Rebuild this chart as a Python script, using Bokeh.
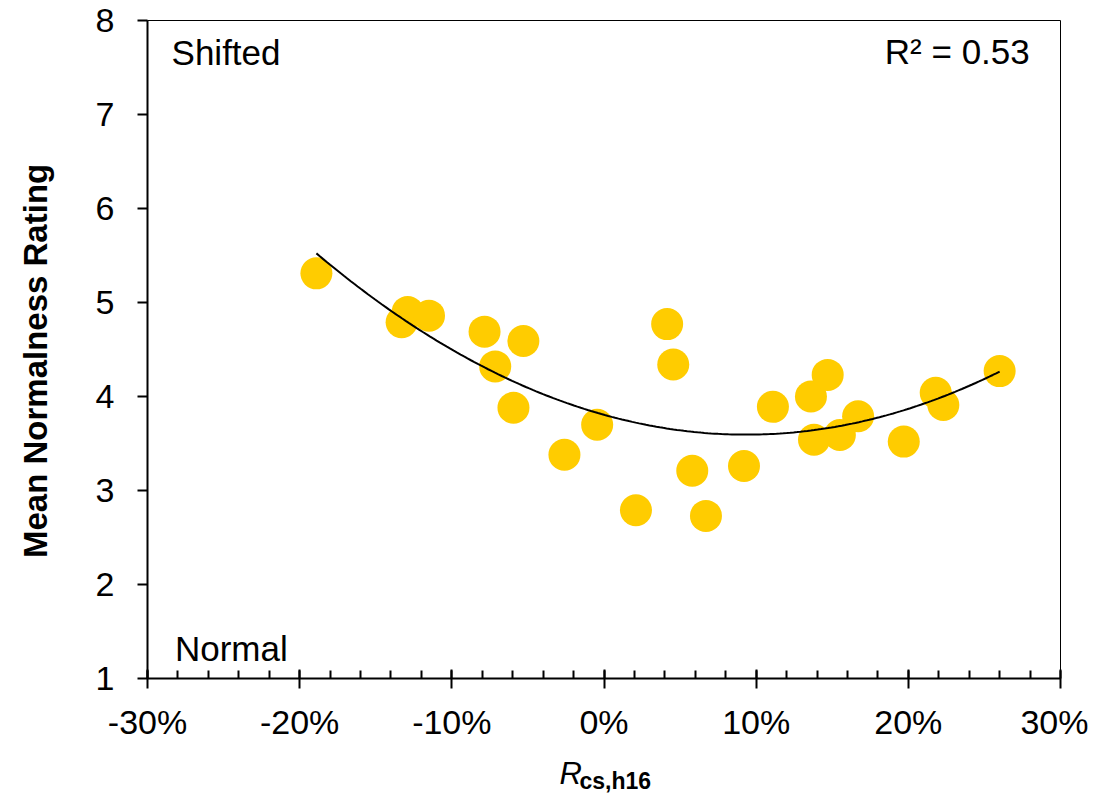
import numpy as np
from bokeh.plotting import figure
from bokeh.models import Range1d, FixedTicker, Label
from bokeh.layouts import row, column
from bokeh.embed import file_html
from bokeh.resources import INLINE

# Data (R_cs,h16 in %, mean normalness rating)
r_cs = [-18.9, -13.3, -12.9, -11.5, -7.85, -5.3, -7.15, -5.95, -2.6, -0.45,
        2.1, 4.15, 4.55, 5.8, 6.7, 9.2, 11.1, 13.6, 14.7, 13.8, 15.5, 16.7,
        19.7, 21.8, 22.3, 26.0]
rating = [5.31, 4.79, 4.90, 4.86, 4.69, 4.59, 4.32, 3.88, 3.38, 3.70,
          2.79, 4.77, 4.34, 3.21, 2.73, 3.26, 3.89, 4.00, 4.23, 3.54, 3.59, 3.79,
          3.52, 4.04, 3.91, 4.27]
x_ticks = [-30, -20, -10, 0, 10, 20, 30]
x_tick_labels = ["-30%", "-20%", "-10%", "0%", "10%", "20%", "30%"]
y_ticks = [1, 2, 3, 4, 5, 6, 7, 8]

FONT = "Liberation Sans"
YW = 60      # width of the strip holding the y title
MAIN_H = 748
XH = 45      # height of the strip holding the x title


def blank(w, h):
    f = figure(width=w, height=h, output_backend="svg", toolbar_location=None,
               x_range=Range1d(0, w), y_range=Range1d(0, h),
               x_axis_type=None, y_axis_type=None,
               min_border=0, min_border_left=0, min_border_right=0,
               min_border_top=0, min_border_bottom=0)
    f.outline_line_color = None
    f.xgrid.visible = False
    f.ygrid.visible = False
    f.background_fill_color = "white"
    f.border_fill_color = "white"
    return f


p = figure(width=1088 - YW, height=MAIN_H, output_backend="svg", toolbar_location=None,
           x_range=Range1d(-30, 30), y_range=Range1d(1, 8),
           min_border_left=147 - YW, min_border_top=20, min_border_right=28,
           min_border_bottom=MAIN_H - 678)
p.xgrid.visible = False
p.ygrid.visible = False
p.outline_line_color = "black"
p.outline_line_width = 1
p.background_fill_color = "white"
p.border_fill_color = "white"

# Points
p.scatter(r_cs, rating, size=32, fill_color="#FFCC00", line_color=None)

# Quadratic trendline fitted to data
coef = np.polyfit(r_cs, rating, 2)
xs = np.linspace(min(r_cs), max(r_cs), 200)
p.line(xs, np.polyval(coef, xs), line_color="black", line_width=2)

# X axis
xa = p.xaxis[0]
xa.ticker = FixedTicker(ticks=x_ticks, minor_ticks=list(range(-30, 31, 2)))
xa.major_label_overrides = {t: l for t, l in zip(x_ticks, x_tick_labels)}
xa.axis_line_width = 2
xa.axis_line_color = "black"
xa.major_tick_in = 9
xa.major_tick_out = 10
xa.major_tick_line_width = 2
xa.minor_tick_in = 8
xa.minor_tick_out = 0
xa.minor_tick_line_width = 2
xa.major_label_text_font = FONT
xa.major_label_text_font_size = "34px"
xa.major_label_text_color = "black"
xa.major_label_standoff = 14

# Y axis
ya = p.yaxis[0]
ya.ticker = FixedTicker(ticks=y_ticks)
ya.axis_line_width = 2
ya.axis_line_color = "black"
ya.major_tick_in = 0
ya.major_tick_out = 10
ya.major_tick_line_width = 2
ya.minor_tick_in = 0
ya.minor_tick_out = 0
ya.major_label_text_font = FONT
ya.major_label_text_font_size = "34px"
ya.major_label_text_color = "black"
ya.major_label_standoff = 23

# In-plot texts
p.add_layout(Label(x=-28.42, y=7.66, text="Shifted", text_font=FONT,
                   text_font_size="35px", text_color="black",
                   text_baseline="alphabetic", text_align="left"))
p.add_layout(Label(x=-28.2, y=1.32, text="Normal", text_font=FONT,
                   text_font_size="35px", text_color="black",
                   text_baseline="alphabetic", text_align="left"))
p.add_layout(Label(x=27.98, y=7.67, text="R² = 0.53", text_font=FONT,
                   text_font_size="35px", text_color="black",
                   text_baseline="alphabetic", text_align="right"))

# Y title strip
yfig = blank(YW, MAIN_H)
yfig.add_layout(Label(x=35, y=MAIN_H - 387, text="Mean Normalness Rating", text_font=FONT,
                      text_font_size="33px", text_font_style="bold", text_color="black",
                      angle=90, angle_units="deg", text_align="center",
                      text_baseline="middle"))

# X title strip
xfig = blank(1088, XH)
xfig.add_layout(Label(x=559, y=XH - (787 - MAIN_H) + 14, text="R", text_font=FONT,
                      text_font_size="31px", text_font_style="italic", text_color="black",
                      text_align="left", text_baseline="alphabetic"))
xfig.add_layout(Label(x=579, y=XH - (794 - MAIN_H) + 14, text="cs,h16", text_font=FONT,
                      text_font_size="23px", text_font_style="bold", text_color="black",
                      text_align="left", text_baseline="alphabetic"))

layout = column(row(yfig, p, spacing=0), xfig, spacing=0)
open("out.html", "w").write(file_html(layout, INLINE))
